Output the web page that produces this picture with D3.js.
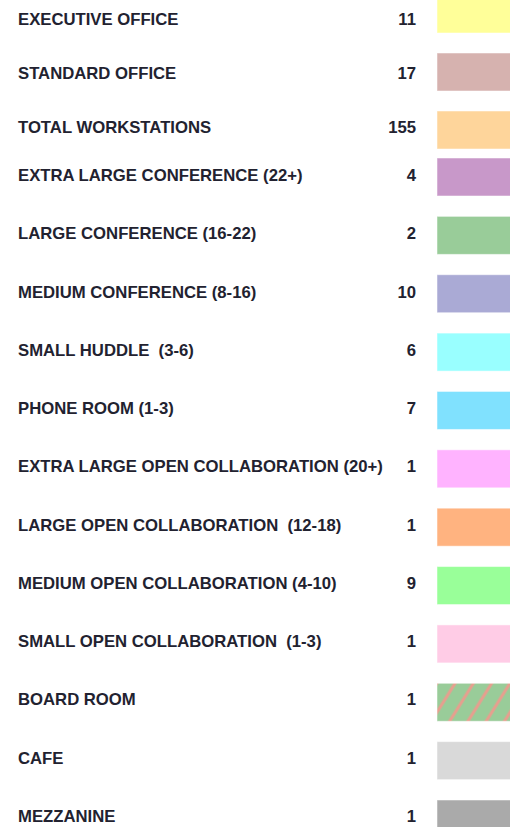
<!DOCTYPE html>
<html>
<head>
<meta charset="utf-8">
<script src="https://cdn.jsdelivr.net/npm/d3@7"></script>
<style>
  html, body { margin: 0; padding: 0; background: #fff; }
  svg { display: block; }
  text { white-space: pre; }
</style>
</head>
<body>
<svg id="chart" width="510" height="827"></svg>
<script>
// ---- data ----
const categories = [
  "EXECUTIVE OFFICE",
  "STANDARD OFFICE",
  "TOTAL WORKSTATIONS",
  "EXTRA LARGE CONFERENCE (22+)",
  "LARGE CONFERENCE (16-22)",
  "MEDIUM CONFERENCE (8-16)",
  "SMALL HUDDLE  (3-6)",
  "PHONE ROOM (1-3)",
  "EXTRA LARGE OPEN COLLABORATION (20+)",
  "LARGE OPEN COLLABORATION  (12-18)",
  "MEDIUM OPEN COLLABORATION (4-10)",
  "SMALL OPEN COLLABORATION  (1-3)",
  "BOARD ROOM",
  "CAFE",
  "MEZZANINE"
];
const counts = [11, 17, 155, 4, 2, 10, 6, 7, 1, 1, 9, 1, 1, 1, 1];
const colors = [
  "#ffff99", "#d6b2af", "#fed59b", "#c898c9", "#99cc99", "#aaaad5",
  "#99ffff", "#80e1fe", "#ffb3ff", "#ffb380", "#99ff99", "#ffcce6",
  "#99cc99", "#d9d9d9", "#aaaaaa"
];
const hatched = [false,false,false,false,false,false,false,false,false,false,false,false,true,false,false];

// ---- layout ----
const svg = d3.select("#chart");
const n = categories.length;
const splitAt = 3; // offices section vs. rooms section

// swatch top positions
const swA = d3.scaleLinear().domain([0, splitAt - 1]).range([-5, 111]);
const swB = d3.scaleLinear().domain([splitAt, n - 1]).range([158, 800]);
const swTop = i => i < splitAt ? swA(i) : swB(i);
// text baselines
const txA = d3.scaleLinear().domain([0, splitAt - 1]).range([25, 133]);
const txB = d3.scaleLinear().domain([splitAt, n - 1]).range([181, 822]);
const txY = i => i < splitAt ? txA(i) : txB(i);

const swH = 38, swX = 437, swW = 80;
const labelX = 18, numX = 416;
const fontSize = 16.7;

// hatch pattern
const defs = svg.append("defs");
const pat = defs.append("pattern")
  .attr("id", "hatch")
  .attr("patternUnits", "userSpaceOnUse")
  .attr("width", 15.5).attr("height", 15.5)
  .attr("patternTransform", "rotate(32)");
pat.append("rect").attr("width", 15.5).attr("height", 15.5).attr("fill", "#99cc99");
pat.append("line").attr("x1", 4).attr("y1", 0).attr("x2", 4).attr("y2", 15.5)
  .attr("stroke", "#e89e8e").attr("stroke-width", 3);

const rows = svg.selectAll("g.row")
  .data(d3.range(n))
  .join("g").attr("class", "row");

rows.append("rect")
  .attr("x", swX)
  .attr("y", i => swTop(i))
  .attr("width", swW)
  .attr("height", swH)
  .attr("fill", i => hatched[i] ? "url(#hatch)" : colors[i])
  .attr("stroke", "rgba(255,255,255,0.5)")
  .attr("stroke-width", 1);

rows.append("text")
  .attr("x", labelX)
  .attr("y", i => txY(i))
  .attr("xml:space", "preserve")
  .attr("font-family", "'Liberation Sans', Arial, sans-serif")
  .attr("font-weight", "bold")
  .attr("font-size", fontSize)
  .attr("fill", "#222230")
  .text(i => categories[i]);

rows.append("text")
  .attr("x", numX)
  .attr("y", i => txY(i))
  .attr("text-anchor", "end")
  .attr("font-family", "'Liberation Sans', Arial, sans-serif")
  .attr("font-weight", "bold")
  .attr("font-size", fontSize)
  .attr("fill", "#222230")
  .text(i => counts[i]);
</script>
</body>
</html>
